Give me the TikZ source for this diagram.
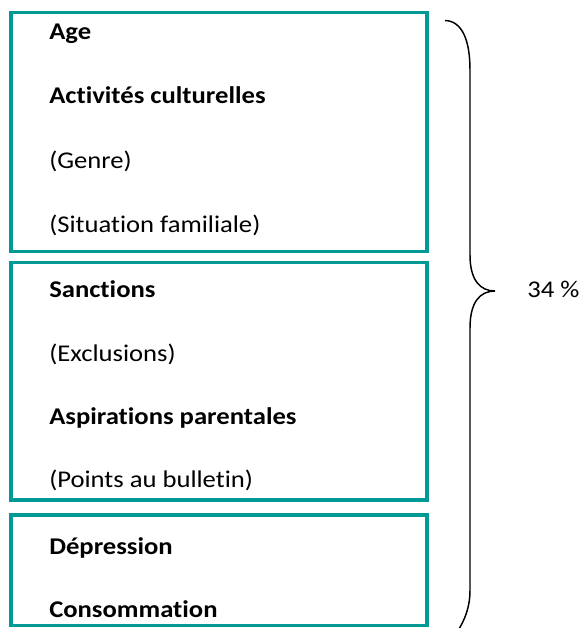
\documentclass[tikz,border=0pt]{standalone}
\usepackage{fontspec}
\setmainfont{Carlito}[FakeStretch=1.11,RawFeature=-liga]
\definecolor{tealbox}{RGB}{0,153,150}
\begin{document}
\begin{tikzpicture}[x=0.75pt,y=-0.75pt,
  box/.style={draw=tealbox,line width=2.4pt},
  lbl/.style={anchor=base west,inner sep=0pt,font=\fontsize{18}{21}\selectfont},
  blbl/.style={lbl,font=\fontsize{18}{21}\selectfont\bfseries},
  bracepath/.style={draw=black,line width=1.1pt}]
\useasboundingbox (0,0) rectangle (580,628);
\draw[box] (11,12.5) rectangle (427,251.5);
\draw[box] (11,262.5) rectangle (427,500);
\draw[box] (11,515) rectangle (427,625.5);
\node[blbl] (age) at (49,39.5) {Age};
\node[blbl] (act) at (49,103.5) {Activités culturelles};
\node[lbl] (gen) at (49,168.5) {(Genre)};
\node[lbl] (sit) at (49,232) {(Situation familiale)};
\node[blbl] (san) at (49,297.5) {Sanctions};
\node[lbl] (exc) at (49,361) {(Exclusions)};
\node[blbl] (asp) at (49,424.5) {Aspirations parentales};
\node[lbl] (pts) at (49,487.5) {(Points au bulletin)};
\node[blbl] (dep) at (49,554) {Dépression};
\node[blbl] (con) at (49,617) {Consommation};
\node[lbl] (pct) at (527,297) {34 \%};
\draw[bracepath] (445,20.5) .. controls (462,21) and (470,40) .. (470,70)
  -- (470,255) .. controls (470,280) and (480,291) .. (495,291)
  .. controls (480,291) and (470,302) .. (470,328)
  -- (470,590) .. controls (470,607) and (465,620) .. (457,632);
\end{tikzpicture}
\end{document}
